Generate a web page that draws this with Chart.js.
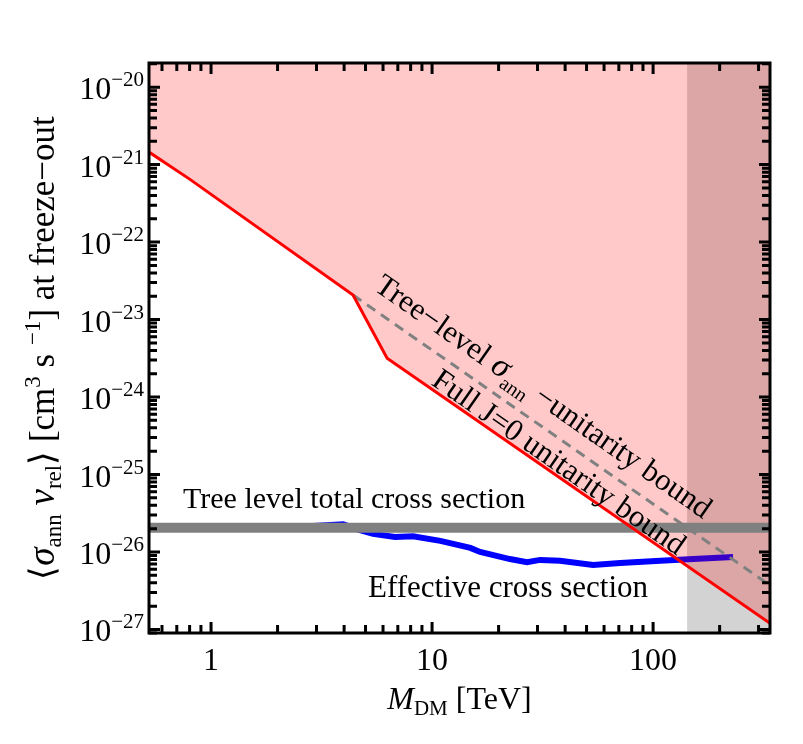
<!DOCTYPE html>
<html>
<head>
<meta charset="utf-8">
<script src="https://cdn.jsdelivr.net/npm/chart.js@4.4.0/dist/chart.umd.min.js"></script>
<style>
  body { margin: 0; background: #fff; }
</style>
</head>
<body>
<canvas id="chart" width="803" height="744"></canvas>
<script>
// axis ranges (TeV, cm^3 s^-1)
const xRange = [0.524, 338];
const yRange = [9e-28, 2.05e-20];
const xTickLabels = [1, 10, 100];
const yTickExps = [-27, -26, -25, -24, -23, -22, -21, -20];

// full J=0 unitarity bound (red)
const redMass = [0.524, 0.8, 4.39, 6.26, 338];
const redSigma = [1.45e-21, 6.5e-22, 2.07e-23, 3.18e-24, 1.2e-27];

// tree-level sigma_ann unitarity bound (dashed)
const dashMass = [4.39, 338];
const dashSigma = [2.07e-23, 3.7e-27];

// effective cross section (blue)
const blueMass = [1.0, 2.53, 3.96, 4.72, 5.41, 6.8, 8.2, 10.9, 14.9, 16.5, 22.5, 26.9, 30.8, 37.9, 53.5, 71, 108, 152, 230];
const blueSigma = [2.02e-26, 2.12e-26, 2.28e-26, 1.92e-26, 1.71e-26, 1.56e-26, 1.6e-26, 1.39e-26, 1.13e-26, 1.0e-26, 8.1e-27, 7.4e-27, 7.9e-27, 7.7e-27, 6.8e-27, 7.2e-27, 7.7e-27, 8.1e-27, 8.6e-27];

// tree level total cross section (gray band)
const treeMass = [0.524, 338];
const treeSigma = [2.05e-26, 2.05e-26];

// excluded mass region
const cutMass = [142.5, 338];

const fontFam = '"Liberation Serif", "Times New Roman", serif';

function pts(xs, ys) {
    return xs.map((x, i) => ({ x: x, y: ys[i] }));
}

function drawRich(ctx, segs, x, y, align) {
    let w = 0;
    segs.forEach(s => {
        ctx.font = (s.italic ? 'italic ' : '') + s.size + 'px ' + fontFam;
        s.w = ctx.measureText(s.t).width;
        w += s.w;
    });
    let cx = align === 'center' ? x - w / 2 : (align === 'right' ? x - w : x);
    segs.forEach(s => {
        ctx.font = (s.italic ? 'italic ' : '') + s.size + 'px ' + fontFam;
        ctx.fillText(s.t, cx, y + (s.dy || 0));
        cx += s.w;
    });
}

const framePlugin = {
    id: 'frame',
    afterDraw(chart) {
        const ctx = chart.ctx;
        const a = chart.chartArea;
        const xs = chart.scales.x, ys = chart.scales.y;
        ctx.save();
        ctx.fillStyle = '#000';
        ctx.strokeStyle = '#000';
        ctx.textAlign = 'left';
        ctx.textBaseline = 'alphabetic';

        // inward ticks on all four sides
        ctx.lineWidth = 3;
        for (let d = -1; d <= 2; d++) {
            for (let k = 1; k <= 9; k++) {
                const v = k * Math.pow(10, d);
                if (v < xRange[0] || v > xRange[1]) continue;
                const px = xs.getPixelForValue(v);
                const len = k === 1 ? 11 : 8;
                ctx.beginPath();
                ctx.moveTo(px, a.bottom); ctx.lineTo(px, a.bottom - len);
                ctx.moveTo(px, a.top); ctx.lineTo(px, a.top + len);
                ctx.stroke();
            }
        }
        for (let d = -28; d <= -20; d++) {
            for (let k = 1; k <= 9; k++) {
                const v = k * Math.pow(10, d);
                if (v < yRange[0] || v > yRange[1]) continue;
                const py = ys.getPixelForValue(v);
                const len = k === 1 ? 11 : 8;
                ctx.beginPath();
                ctx.moveTo(a.left, py); ctx.lineTo(a.left + len, py);
                ctx.moveTo(a.right, py); ctx.lineTo(a.right - len, py);
                ctx.stroke();
            }
        }
        ctx.lineWidth = 3;
        ctx.strokeRect(a.left, a.top, a.right - a.left, a.bottom - a.top);

        // tick labels
        xTickLabels.forEach(v => {
            drawRich(ctx, [{ t: String(v), size: 32 }], xs.getPixelForValue(v), a.bottom + 37, 'center');
        });
        yTickExps.forEach(e => {
            const py = ys.getPixelForValue(Math.pow(10, e));
            drawRich(ctx, [
                { t: '10', size: 32, dy: 12 },
                { t: '\u2212' + Math.abs(e), size: 21, dy: -1 }
            ], a.left - 5, py, 'right');
        });

        // axis titles
        drawRich(ctx, [
            { t: 'M', size: 32, italic: true },
            { t: 'DM', size: 21, dy: 6 },
            { t: ' [TeV]', size: 32 }
        ], (a.left + a.right) / 2, a.bottom + 76, 'center');

        ctx.save();
        ctx.translate(54, (a.top + a.bottom) / 2);
        ctx.rotate(-Math.PI / 2);
        drawRich(ctx, [
            { t: '\u27E8', size: 35 },
            { t: '\u03C3', size: 37, italic: true },
            { t: 'ann', size: 23, dy: 7 },
            { t: ' ', size: 35 },
            { t: 'v', size: 37, italic: true },
            { t: 'rel', size: 23, dy: 7 },
            { t: '\u27E9 [cm', size: 35 },
            { t: '3', size: 23, dy: -14 },
            { t: ' s ', size: 35 },
            { t: '\u22121', size: 23, dy: -14 },
            { t: '] at freeze\u2212out', size: 35 }
        ], 0, 0, 'center');
        ctx.restore();

        // in-plot labels
        drawRich(ctx, [{ t: 'Tree level total cross section', size: 30 }],
            xs.getPixelForValue(0.747), ys.getPixelForValue(3.7e-26), 'left');
        drawRich(ctx, [{ t: 'Effective cross section', size: 31 }],
            xs.getPixelForValue(5.13), ys.getPixelForValue(2.63e-27), 'left');

        const ang = Math.atan2(
            ys.getPixelForValue(dashSigma[1]) - ys.getPixelForValue(dashSigma[0]),
            xs.getPixelForValue(dashMass[1]) - xs.getPixelForValue(dashMass[0]));
        ctx.save();
        ctx.translate(xs.getPixelForValue(5.4), ys.getPixelForValue(2.45e-23));
        ctx.rotate(ang);
        drawRich(ctx, [
            { t: 'Tree\u2212level ', size: 31 },
            { t: '\u03C3', size: 34, italic: true },
            { t: 'ann', size: 20, dy: 8 },
            { t: ' \u2212unitarity bound', size: 31 }
        ], 0, 0, 'left');
        ctx.restore();
        ctx.save();
        ctx.translate(xs.getPixelForValue(9.8), ys.getPixelForValue(1.47e-24));
        ctx.rotate(ang);
        drawRich(ctx, [{ t: 'Full J=0 unitarity bound', size: 31 }], 0, 0, 'left');
        ctx.restore();

        ctx.restore();
    }
};

new Chart(document.getElementById('chart'), {
    type: 'line',
    data: {
        datasets: [
            {
                // excluded mass region
                data: pts(cutMass, [yRange[1], yRange[1]]),
                fill: 'start',
                backgroundColor: '#d3d3d3',
                borderWidth: 0,
                pointRadius: 0,
                order: 6
            },
            {
                data: pts(blueMass, blueSigma),
                borderColor: '#0000ff',
                borderWidth: 6,
                pointRadius: 0,
                fill: false,
                order: 5
            },
            {
                // pink region above the unitarity bound
                data: pts(redMass, redSigma),
                fill: 'end',
                backgroundColor: 'rgba(255, 0, 0, 0.21)',
                borderWidth: 0,
                pointRadius: 0,
                order: 4
            },
            {
                data: pts(dashMass, dashSigma),
                borderColor: '#808080',
                borderWidth: 3,
                borderDash: [10, 7],
                pointRadius: 0,
                fill: false,
                order: 3
            },
            {
                data: pts(treeMass, treeSigma),
                borderColor: '#808080',
                borderWidth: 10,
                pointRadius: 0,
                fill: false,
                order: 2
            },
            {
                data: pts(redMass, redSigma),
                borderColor: '#ff0000',
                borderWidth: 3,
                pointRadius: 0,
                fill: false,
                order: 1
            }
        ]
    },
    options: {
        responsive: false,
        animation: false,
        events: [],
        layout: { padding: { left: 0, right: 33, top: 63, bottom: 0 } },
        plugins: {
            legend: { display: false },
            tooltip: { enabled: false }
        },
        elements: { line: { tension: 0 } },
        scales: {
            x: {
                type: 'logarithmic',
                min: xRange[0],
                max: xRange[1],
                grid: { display: false },
                border: { display: false },
                ticks: { display: false },
                afterFit: s => { s.height = 111; }
            },
            y: {
                type: 'logarithmic',
                min: yRange[0],
                max: yRange[1],
                grid: { display: false },
                border: { display: false },
                ticks: { display: false },
                afterFit: s => { s.width = 149; }
            }
        }
    },
    plugins: [framePlugin]
});
</script>
</body>
</html>
